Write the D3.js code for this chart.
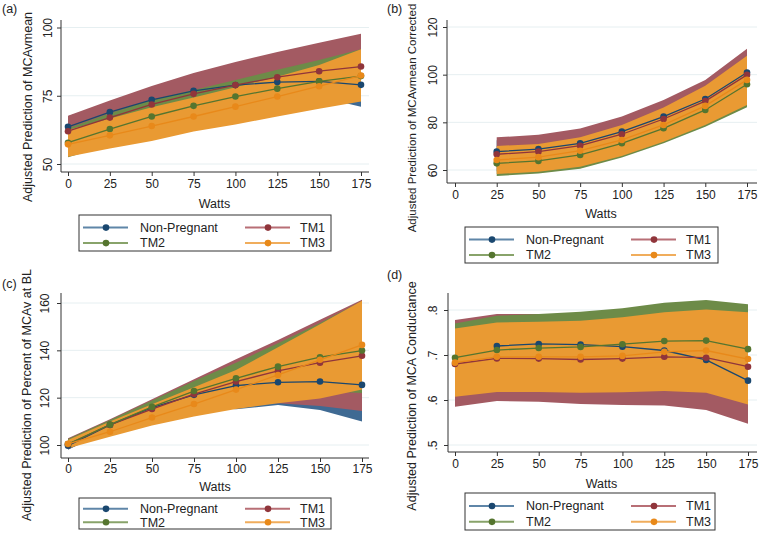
<!DOCTYPE html>
<html>
<head>
<meta charset="utf-8">
<script src="https://cdn.jsdelivr.net/npm/d3@7"></script>
<style>
  body { margin: 0; background: #fff; }
  svg { font-family: "Liberation Sans", Arial, sans-serif; }
</style>
</head>
<body>
<div id="chart"></div>
<script>
const W = 760, H = 533;

// x categories shared by all panels
const watts = [0, 25, 50, 75, 100, 125, 150, 175];
const groups = ["Non-Pregnant", "TM1", "TM2", "TM3"];

// series order: Non-Pregnant, TM1, TM2, TM3
// (a) MCAvmean
const aMean = [
    [63.6, 69.0, 73.5, 76.8, 78.9, 80.0, 80.3, 79.0],
    [62.0, 67.0, 71.8, 75.7, 78.9, 81.8, 84.0, 85.7],
    [57.8, 62.8, 67.4, 71.3, 74.7, 77.6, 80.3, 82.2],
    [57.2, 60.5, 63.9, 67.4, 71.0, 74.7, 78.5, 82.4]
];
const aHi = [
    [67.5, 72.5, 77.0, 80.5, 82.8, 84.5, 86.0, 87.0],
    [67.7, 73.3, 78.6, 83.3, 87.4, 91.0, 94.4, 97.7],
    [63.1, 68.6, 73.5, 77.1, 80.8, 84.5, 88.1, 92.0],
    [62.5, 66.7, 70.8, 74.4, 78.1, 82.0, 86.3, 92.0]
];
const aLo = [
    [59.5, 65.5, 70.0, 73.0, 75.0, 75.5, 74.5, 71.0],
    [56.3, 60.7, 65.0, 68.1, 70.4, 72.6, 73.6, 73.7],
    [52.5, 57.0, 61.3, 65.5, 68.6, 70.7, 72.5, 73.0],
    [52.7, 55.7, 58.4, 61.9, 64.5, 67.4, 70.2, 72.9]
];

// (b) MCAvmean Corrected (no value at 0 W)
const bMean = [
    [null, 67.7, 68.8, 71.2, 76.1, 82.4, 89.8, 100.9],
    [null, 66.6, 67.7, 70.2, 75.0, 81.4, 88.9, 99.9],
    [null, 62.8, 63.8, 66.3, 71.2, 77.5, 85.2, 96.0],
    [null, 64.2, 65.4, 68.1, 72.6, 78.9, 86.9, 97.8]
];
const bHi = [
    [null, 72.5, 73.5, 76.0, 81.0, 87.5, 95.0, 107.0],
    [null, 73.7, 74.8, 77.4, 82.4, 89.4, 97.8, 110.9],
    [null, 68.0, 69.0, 71.5, 76.5, 83.0, 91.5, 104.0],
    [null, 70.1, 70.9, 73.7, 78.9, 86.2, 95.3, 107.9]
];
const bLo = [
    [null, 63.0, 64.0, 66.5, 71.0, 77.5, 84.5, 95.0],
    [null, 59.5, 60.6, 63.0, 67.6, 73.4, 80.0, 89.0],
    [null, 57.5, 58.5, 60.5, 65.2, 71.2, 78.1, 86.3],
    [null, 58.3, 59.3, 61.4, 65.9, 71.9, 78.9, 87.3]
];

// (c) Percent of MCAv at BL
const cMean = [
    [99.7, 108.5, 115.8, 121.2, 125.1, 126.5, 126.8, 125.4],
    [100.3, 108.5, 115.2, 121.5, 126.8, 131.3, 134.8, 137.7],
    [100.4, 108.6, 116.1, 122.8, 128.2, 133.1, 137.1, 139.9],
    [100.5, 105.6, 111.6, 117.3, 123.4, 129.6, 136.0, 142.3]
];
const cHi = [
    [101.5, 109.5, 118.5, 124.0, 130.0, 134.0, 138.0, 141.0],
    [102.8, 110.9, 119.3, 127.8, 136.2, 144.4, 152.9, 161.4],
    [102.5, 110.6, 118.8, 127.0, 134.8, 143.0, 151.5, 160.8],
    [102.1, 109.9, 117.2, 124.4, 131.7, 141.3, 151.0, 161.0]
];
const cLo = [
    [98.0, 106.5, 112.8, 116.5, 115.1, 116.9, 114.8, 109.9],
    [98.2, 106.0, 111.0, 115.5, 117.4, 117.6, 116.5, 114.4],
    [98.3, 106.2, 113.0, 118.0, 121.0, 122.5, 122.8, 122.0],
    [98.6, 103.5, 108.2, 112.0, 115.2, 117.6, 119.7, 123.5]
];

// (d) MCA Conductance
const dMean = [
    [null, 0.720, 0.7245, 0.723, 0.7185, 0.710, 0.689, 0.643],
    [0.680, 0.6925, 0.692, 0.690, 0.692, 0.696, 0.694, 0.674],
    [0.694, 0.711, 0.7155, 0.718, 0.724, 0.731, 0.732, 0.713],
    [0.683, 0.696, 0.696, 0.696, 0.698, 0.707, 0.710, 0.691]
];
const dHi = [
    [null, 0.770, 0.775, 0.775, 0.772, 0.765, 0.750, 0.720],
    [0.778, 0.791, 0.791, 0.790, 0.790, 0.792, 0.790, 0.780],
    [0.770, 0.787, 0.791, 0.796, 0.804, 0.816, 0.822, 0.813],
    [0.759, 0.772, 0.774, 0.776, 0.784, 0.795, 0.801, 0.795]
];
const dLo = [
    [null, 0.670, 0.674, 0.671, 0.665, 0.655, 0.628, 0.566],
    [0.585, 0.598, 0.596, 0.591, 0.589, 0.588, 0.578, 0.547],
    [0.620, 0.635, 0.640, 0.640, 0.645, 0.645, 0.643, 0.615],
    [0.607, 0.618, 0.618, 0.616, 0.617, 0.620, 0.616, 0.590]
];

// stata s2color-ish
const lineColors = ["#1a476f", "#90353b", "#55752f", "#e8891a"];
const bandColors = ["#3f6a93", "#a35a62", "#6d8b48", "#e99a33"];
const legendLineColors = ["#5f86a8", "#b86f76", "#88a36a", "#f0ad5c"];

const svg = d3.select("#chart").append("svg")
    .attr("width", W)
    .attr("height", H);

svg.append("rect").attr("width", W).attr("height", H).attr("fill", "#fff");

function drawPanel(p) {
    const g = svg.append("g");
    const x = d3.scaleLinear().domain([0, 175]).range(p.xRange);
    const y = d3.scaleLinear().domain(p.yDomain).range(p.yRange);

    // grid
    p.yTicks.forEach(t => {
        g.append("line")
            .attr("x1", p.left).attr("x2", p.right)
            .attr("y1", y(t)).attr("y2", y(t))
            .attr("stroke", "#e6eff1")
            .attr("stroke-width", 1);
    });

    // confidence bands, drawn in group order
    groups.forEach((name, i) => {
        const pts = watts.map((w, j) => ({ w, lo: p.lo[i][j], hi: p.hi[i][j] }))
            .filter(d => d.lo != null);
        const area = d3.area()
            .x(d => x(d.w))
            .y0(d => y(d.lo))
            .y1(d => y(d.hi));
        g.append("path")
            .datum(pts)
            .attr("d", area)
            .attr("fill", bandColors[i]);
    });

    // lines + markers
    groups.forEach((name, i) => {
        const pts = watts.map((w, j) => ({ w, v: p.mean[i][j] }))
            .filter(d => d.v != null);
        const line = d3.line().x(d => x(d.w)).y(d => y(d.v));
        g.append("path")
            .datum(pts)
            .attr("d", line)
            .attr("fill", "none")
            .attr("stroke", lineColors[i])
            .attr("stroke-width", 1.3);
        g.selectAll(null)
            .data(pts)
            .join("circle")
            .attr("cx", d => x(d.w))
            .attr("cy", d => y(d.v))
            .attr("r", 3.3)
            .attr("fill", lineColors[i]);
    });

    // axes
    const yAxis = d3.axisLeft(y)
        .tickValues(p.yTicks)
        .tickSize(4)
        .tickFormat(p.yFormat || d3.format("d"));
    const ya = g.append("g")
        .attr("transform", `translate(${p.left},0)`)
        .call(yAxis);
    ya.select(".domain").remove();
    ya.selectAll("line").attr("stroke", "#333");
    ya.selectAll("text")
        .attr("transform", `translate(${p.yLabelX - p.left},0) rotate(-90)`)
        .attr("x", 0).attr("y", 0).attr("dy", "0.35em")
        .attr("text-anchor", "middle")
        .attr("font-size", 12)
        .attr("fill", "#222");

    const xAxis = d3.axisBottom(x)
        .tickValues(watts)
        .tickSize(4)
        .tickFormat(d3.format("d"));
    const xa = g.append("g")
        .attr("transform", `translate(0,${p.bottom})`)
        .call(xAxis);
    xa.select(".domain").remove();
    xa.selectAll("line").attr("stroke", "#333");
    xa.selectAll("text")
        .attr("y", p.xLabelY - p.bottom)
        .attr("dy", "0.35em")
        .attr("font-size", 12)
        .attr("fill", "#222");

    g.append("line")
        .attr("x1", p.left).attr("x2", p.left)
        .attr("y1", p.top).attr("y2", p.bottom)
        .attr("stroke", "#333");
    g.append("line")
        .attr("x1", p.left).attr("x2", p.right)
        .attr("y1", p.bottom).attr("y2", p.bottom)
        .attr("stroke", "#333");

    // titles
    g.append("text")
        .attr("x", (p.xRange[0] + p.xRange[1]) / 2)
        .attr("y", p.wattsY)
        .attr("dy", "0.35em")
        .attr("text-anchor", "middle")
        .attr("font-size", 12.5)
        .attr("fill", "#222")
        .text("Watts");
    g.append("text")
        .attr("transform", `translate(${p.yTitleX},${p.yTitleY}) rotate(-90)`)
        .attr("dy", "0.35em")
        .attr("text-anchor", "middle")
        .attr("font-size", p.yTitleSize || 12.5)
        .attr("fill", "#222")
        .text(p.yTitle);
    g.append("text")
        .attr("x", p.tagX).attr("y", p.tagY)
        .attr("dy", "0.35em")
        .attr("font-size", 12.5)
        .attr("fill", "#222")
        .text(p.tag);

    // legend
    const lg = g.append("g");
    lg.append("rect")
        .attr("x", p.legX).attr("y", p.legY)
        .attr("width", p.legW).attr("height", p.legH)
        .attr("fill", "#fff")
        .attr("stroke", "#333")
        .attr("stroke-width", 1);
    const rowY = [p.legY + p.legH * 0.35, p.legY + p.legH * 0.78];
    const colX = [p.legX + 4, p.legX + 166];
    groups.forEach((name, i) => {
        const cx = colX[i % 2], cy = rowY[Math.floor(i / 2)];
        lg.append("line")
            .attr("x1", cx).attr("x2", cx + 45)
            .attr("y1", cy).attr("y2", cy)
            .attr("stroke", legendLineColors[i])
            .attr("stroke-width", 2);
        lg.append("circle")
            .attr("cx", cx + 23).attr("cy", cy)
            .attr("r", 3.3)
            .attr("fill", lineColors[i]);
        const tx = i % 2 === 0 ? cx + 57 : cx + 55;
        lg.append("text")
            .attr("x", tx).attr("y", cy)
            .attr("dy", "0.35em")
            .attr("font-size", 12.5)
            .attr("fill", "#222")
            .text(name);
    });
}

drawPanel({
    tag: "(a)", tagX: 2, tagY: 9,
    mean: aMean, lo: aLo, hi: aHi,
    xRange: [68, 361], yDomain: [50, 100], yRange: [164, 27.5],
    yTicks: [50, 75, 100],
    left: 61, right: 369, top: 20, bottom: 172,
    yLabelX: 48, xLabelY: 184, wattsY: 204,
    yTitle: "Adjusted Prediction of MCAvmean", yTitleX: 28, yTitleY: 107,
    legX: 79, legY: 215, legW: 252, legH: 36
});

drawPanel({
    tag: "(b)", tagX: 387, tagY: 9,
    mean: bMean, lo: bLo, hi: bHi,
    xRange: [455, 747], yDomain: [60, 120], yRange: [170, 27],
    yTicks: [60, 80, 100, 120],
    left: 447, right: 757, top: 20, bottom: 183,
    yLabelX: 433, xLabelY: 195, wattsY: 214,
    yTitle: "Adjusted Prediction of MCAvmean Corrected", yTitleX: 412, yTitleY: 118,
    yTitleSize: 11.5,
    legX: 465, legY: 227, legW: 253, legH: 36
});

drawPanel({
    tag: "(c)", tagX: 2, tagY: 284,
    mean: cMean, lo: cLo, hi: cHi,
    xRange: [68, 362], yDomain: [100, 160], yRange: [445, 303],
    yTicks: [100, 120, 140, 160],
    left: 61, right: 369, top: 293, bottom: 458,
    yLabelX: 45, xLabelY: 469, wattsY: 487,
    yTitle: "Adjusted Prediction of Percent of MCAv at BL", yTitleX: 27, yTitleY: 395,
    legX: 79, legY: 498, legW: 252, legH: 31
});

drawPanel({
    tag: "(d)", tagX: 387, tagY: 275,
    mean: dMean, lo: dLo, hi: dHi,
    xRange: [455, 748], yDomain: [0.5, 0.8], yRange: [445, 310],
    yTicks: [0.5, 0.6, 0.7, 0.8],
    yFormat: d => d3.format(".1f")(d).replace(/^0/, ""),
    left: 448, right: 757, top: 293, bottom: 452,
    yLabelX: 433, xLabelY: 464, wattsY: 484,
    yTitle: "Adjusted Prediction of MCA Conductance", yTitleX: 412, yTitleY: 396,
    legX: 465, legY: 493, legW: 250, legH: 37
});
</script>
</body>
</html>
